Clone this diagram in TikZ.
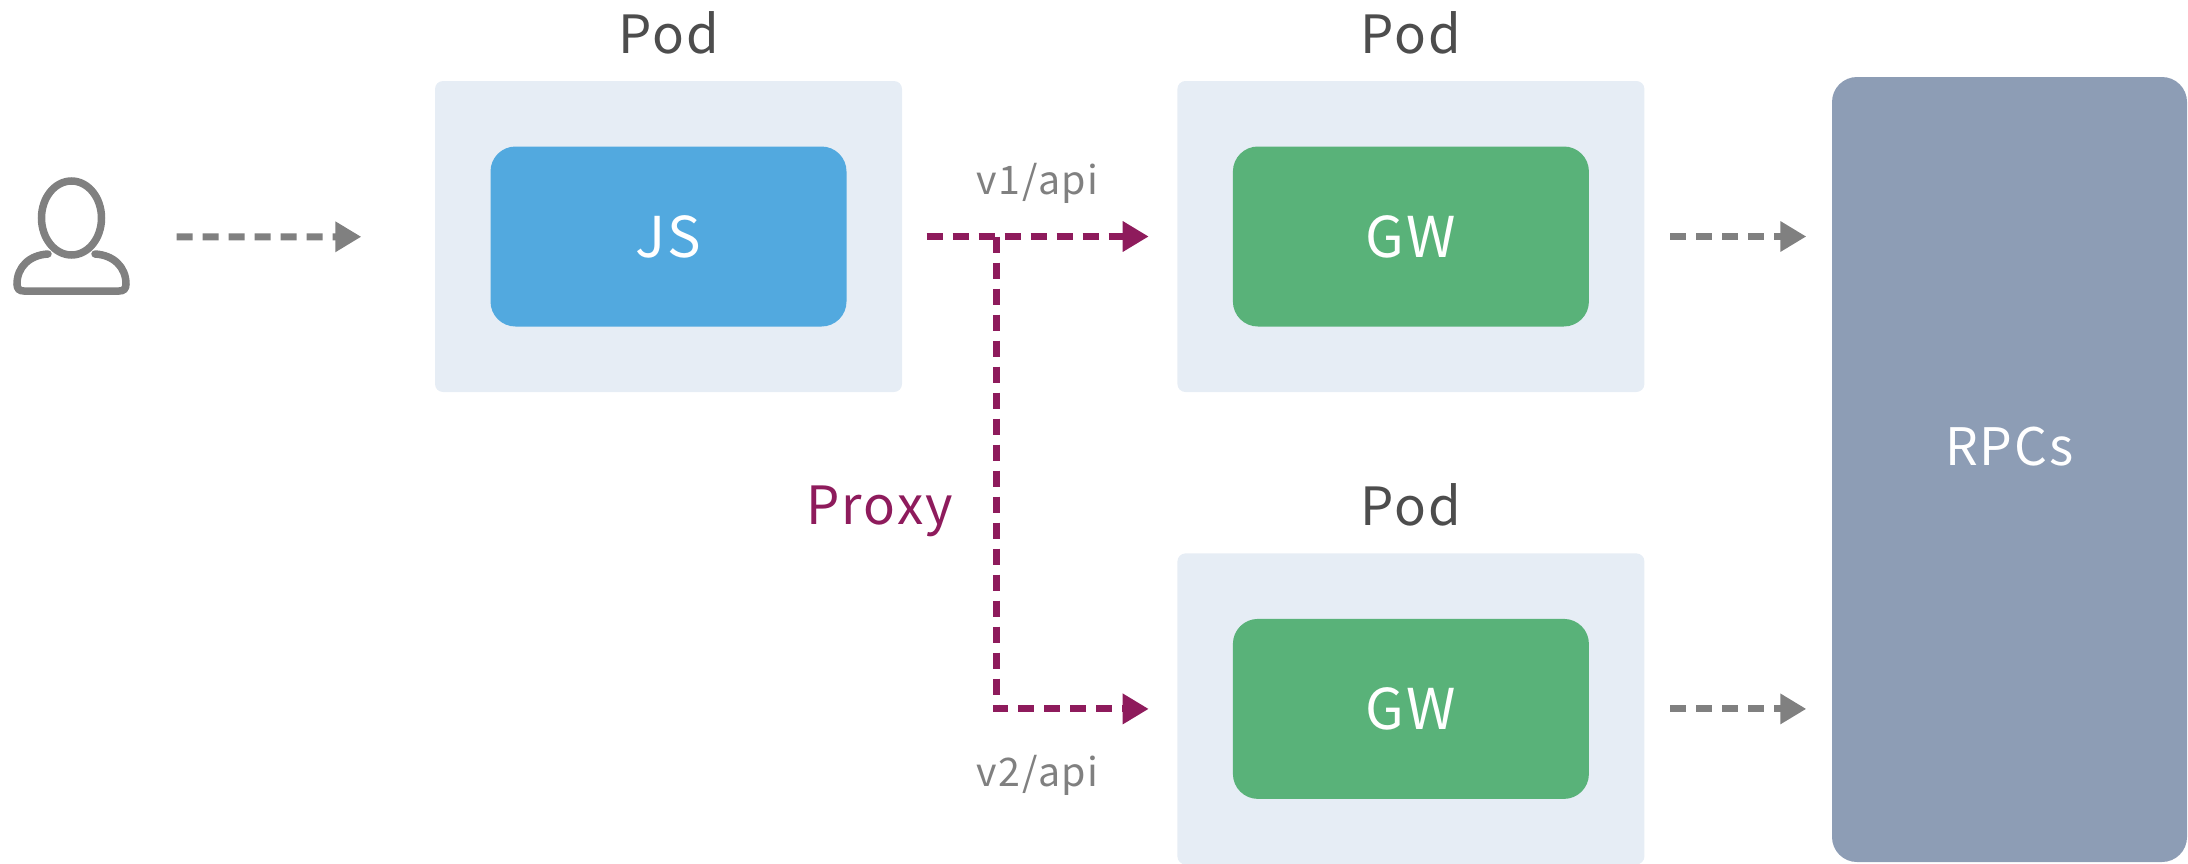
\documentclass[tikz,border=0pt]{standalone}
\usepackage{fontspec}
\setmainfont[LetterSpace=4]{Noto Sans CJK SC}
\usepackage{tikz}
\usetikzlibrary{arrows.meta,positioning,calc}
\definecolor{podfill}{HTML}{E6EDF5}
\definecolor{jsblue}{HTML}{52A9DF}
\definecolor{gwgreen}{HTML}{59B279}
\definecolor{rpcslate}{HTML}{8D9DB5}
\definecolor{flowgray}{HTML}{808080}
\definecolor{proxypurple}{HTML}{8E1B5C}
\definecolor{podtext}{HTML}{4D4D4D}
\tikzset{
    pod/.style={fill=podfill, rounded corners=0.08cm, minimum width=4.67cm, minimum height=3.11cm, inner sep=0pt},
    service/.style={rounded corners=0.25cm, minimum width=3.56cm, minimum height=1.80cm, inner sep=0pt, text=white, font=\fontsize{16}{18}\selectfont},
    podlabel/.style={text=podtext, inner sep=0pt, font=\fontsize{15}{18}\selectfont},
    apilabel/.style={text=flowgray, inner sep=0pt, font=\fontsize{11.2}{14}\selectfont},
    flow/.style={-{Triangle[length=0.26cm, width=0.29cm]}, line width=0.07cm, flowgray, dash pattern=on 0.16cm off 0.10cm},
    proxyflow/.style={flow, proxypurple},
    usericon/.style={line width=0.075cm, flowgray, line cap=round}
}
\begin{document}
\begin{tikzpicture}
    \useasboundingbox (0,0) rectangle (21.88,-8.63);

    \node[pod] (jspod) at (6.685,-2.365) {};
    \node[pod, right=2.74cm of jspod] (gwpodA) {};
    \node[pod, below=1.60cm of gwpodA] (gwpodB) {};
    \node[service, fill=jsblue] (js) at (jspod) {JS};
    \node[service, fill=gwgreen] (gwA) at (gwpodA) {GW};
    \node[service, fill=gwgreen] (gwB) at (gwpodB) {GW};
    \node[fill=rpcslate, rounded corners=0.25cm, minimum width=3.55cm, minimum height=7.85cm, inner sep=0pt] (rpcs) at (20.095,-4.695) {};
    \node[text=white, inner sep=0pt, font=\fontsize{14.7}{18}\selectfont] (rpcslabel) at ($(rpcs)+(0,0.23)$) {RPCs};

    \node[podlabel, above=0.255cm of jspod] (jspodlabel) {Pod};
    \node[podlabel, above=0.255cm of gwpodA] (gwpodAlabel) {Pod};
    \node[podlabel, above=0.255cm of gwpodB] (gwpodBlabel) {Pod};

    \node[minimum width=1.17cm, minimum height=1.18cm, inner sep=0pt] (user) at (0.715,-2.37) {};
    \begin{scope}[shift={(user)}]
        \draw[usericon] (0,0.19) ellipse (0.30cm and 0.37cm);
        \draw[usericon] (-0.235,-0.17) .. controls (-0.42,-0.18) and (-0.545,-0.30) .. (-0.545,-0.47) .. controls (-0.545,-0.52) and (-0.52,-0.54) .. (-0.475,-0.54) -- (0.475,-0.54) .. controls (0.52,-0.54) and (0.545,-0.52) .. (0.545,-0.47) .. controls (0.545,-0.30) and (0.42,-0.18) .. (0.235,-0.17);
    \end{scope}

    \coordinate (branch) at ($(jspod.east)+(0.94,0)$);
    \node[apilabel] (vAlabel) at ($(branch)+(0.41,0.53)$) {v1/api};
    \node[apilabel] (vBlabel) at ($(branch)+(0.41,-5.39)$) {v2/api};
    \node[text=proxypurple, inner sep=0pt, font=\fontsize{15}{18}\selectfont] (proxy) at ($(branch)+(-1.17,-2.75)$) {Proxy};

    \draw[flow, shorten <=0.46cm, shorten >=0.73cm] (user) -- (jspod);
    \draw[proxyflow, shorten <=0.24cm, shorten >=0.28cm] (jspod) -- (gwpodA);
    \draw[proxyflow, shorten >=0.28cm] (branch) |- (gwpodB);
    \draw[flow, shorten <=0.25cm, shorten >=0.25cm] (gwpodA.east) -- (gwpodA.east -| rpcs.west);
    \draw[flow, shorten <=0.25cm, shorten >=0.25cm] (gwpodB.east) -- (gwpodB.east -| rpcs.west);
\end{tikzpicture}
\end{document}
